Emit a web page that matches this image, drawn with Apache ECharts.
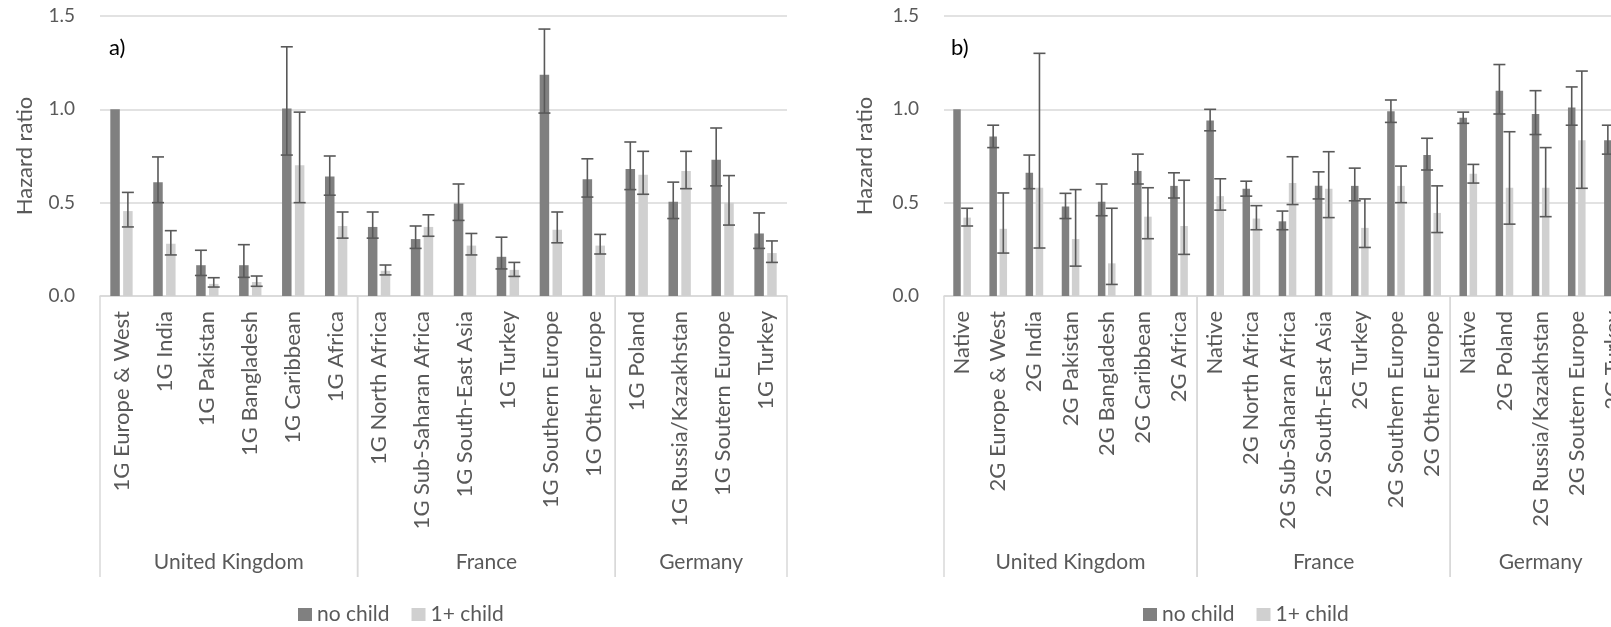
<!DOCTYPE html>
<html>
<head>
<meta charset="utf-8">
<script src="https://cdn.jsdelivr.net/npm/echarts@6/dist/echarts.min.js"></script>
<style>
  html, body { margin: 0; padding: 0; background: #fff; overflow: hidden; }
  #chart { width: 1650px; height: 627px; }
</style>
</head>
<body>
<div id="chart"></div>
<script>
// panel a) first generation
var catsA = ['1G Europe & West', '1G India', '1G Pakistan', '1G Bangladesh', '1G Caribbean', '1G Africa',
  '1G North Africa', '1G Sub-Saharan Africa', '1G South-East Asia', '1G Turkey', '1G Southern Europe', '1G Other Europe',
  '1G Poland', '1G Russia/Kazakhstan', '1G Soutern Europe', '1G Turkey'];
var noChildA   = [1.0, 0.61, 0.165, 0.165, 1.005, 0.64, 0.37, 0.305, 0.495, 0.21, 1.185, 0.625, 0.68, 0.505, 0.73, 0.335];
var noChildLoA = [null, 0.50, 0.11, 0.10, 0.755, 0.54, 0.31, 0.255, 0.405, 0.145, 0.98, 0.53, 0.57, 0.415, 0.59, 0.255];
var noChildHiA = [null, 0.745, 0.245, 0.275, 1.335, 0.75, 0.45, 0.375, 0.60, 0.315, 1.43, 0.735, 0.825, 0.61, 0.90, 0.445];
var oneChildA   = [0.455, 0.28, 0.065, 0.075, 0.70, 0.375, 0.135, 0.37, 0.27, 0.14, 0.355, 0.27, 0.65, 0.67, 0.50, 0.23];
var oneChildLoA = [0.37, 0.22, 0.048, 0.052, 0.50, 0.31, 0.113, 0.32, 0.22, 0.105, 0.285, 0.225, 0.545, 0.575, 0.38, 0.18];
var oneChildHiA = [0.555, 0.35, 0.098, 0.107, 0.985, 0.45, 0.166, 0.435, 0.335, 0.18, 0.45, 0.33, 0.775, 0.775, 0.645, 0.295];
var groupsA = ['United Kingdom', 'France', 'Germany'];
var groupSizesA = [6, 6, 4];

// panel b) second generation (last category is cut off on the right)
var catsB = ['Native', '2G Europe & West', '2G India', '2G Pakistan', '2G Bangladesh', '2G Caribbean', '2G Africa',
  'Native', '2G North Africa', '2G Sub-Saharan Africa', '2G South-East Asia', '2G Turkey', '2G Southern Europe', '2G Other Europe',
  'Native', '2G Poland', '2G Russia/Kazakhstan', '2G Soutern Europe', '2G Turkey'];
var noChildB   = [1.0, 0.855, 0.66, 0.48, 0.505, 0.67, 0.59, 0.94, 0.575, 0.40, 0.59, 0.59, 0.99, 0.755, 0.955, 1.10, 0.975, 1.01, 0.835];
var noChildLoB = [null, 0.795, 0.575, 0.415, 0.43, 0.60, 0.525, 0.885, 0.535, 0.355, 0.52, 0.51, 0.93, 0.675, 0.925, 0.975, 0.865, 0.915, 0.76];
var noChildHiB = [null, 0.915, 0.755, 0.55, 0.60, 0.76, 0.66, 1.00, 0.615, 0.455, 0.665, 0.685, 1.05, 0.845, 0.985, 1.24, 1.10, 1.12, 0.915];
var oneChildB   = [0.42, 0.36, 0.58, 0.305, 0.175, 0.425, 0.375, 0.535, 0.415, 0.605, 0.575, 0.365, 0.59, 0.445, 0.655, 0.58, 0.58, 0.835, null];
var oneChildLoB = [0.375, 0.23, 0.257, 0.16, 0.062, 0.307, 0.223, 0.46, 0.355, 0.49, 0.42, 0.26, 0.50, 0.34, 0.605, 0.385, 0.425, 0.577, null];
var oneChildHiB = [0.47, 0.552, 1.30, 0.57, 0.47, 0.58, 0.62, 0.628, 0.484, 0.746, 0.773, 0.52, 0.696, 0.59, 0.705, 0.88, 0.795, 1.205, null];
var groupsB = ['United Kingdom', 'France', 'Germany'];
var groupSizesB = [7, 7, 5];

var yTicks = [0, 0.5, 1.0, 1.5];

var DARK = '#808080', LIGHT = '#d0d0d0', TXT = '#595959', GRID = '#d9d9d9';
var FONT = 'Lato';

function errData(lo, hi, side) {
  var out = [];
  for (var i = 0; i < lo.length; i++) {
    if (lo[i] != null && hi[i] != null) out.push([i, lo[i], hi[i], side]);
  }
  return out;
}

function groupData(sizes) {
  var out = [], start = 0;
  for (var i = 0; i < sizes.length; i++) {
    out.push([start, 0, start + sizes[i] - 1]);
    start += sizes[i];
  }
  return out;
}

function errorBarItem(barW, gapRatio) {
  return function (params, api) {
    var idx = api.value(0), lo = api.value(1), hi = api.value(2), side = api.value(3);
    var shift = (barW * (1 + gapRatio) / 2) * (side === 0 ? -1 : 1);
    var top = api.coord([idx, hi]);
    var bot = api.coord([idx, lo]);
    var x = top[0] + shift;
    var half = 6;
    function st() { return { stroke: '#595959', lineWidth: 1.6 }; }
    return {
      type: 'group',
      children: [
        { type: 'line', shape: { x1: x, y1: top[1], x2: x, y2: bot[1] }, style: st() },
        { type: 'line', shape: { x1: x - half, y1: top[1], x2: x + half, y2: top[1] }, style: st() },
        { type: 'line', shape: { x1: x - half, y1: bot[1], x2: x + half, y2: bot[1] }, style: st() }
      ]
    };
  };
}

function groupItem(names) {
  return function (params, api) {
    var bw = api.size([1, 0])[0];
    var p0 = api.coord([api.value(0), 0]);
    var p1 = api.coord([api.value(2), 0]);
    var xL = p0[0] - bw / 2, xR = p1[0] + bw / 2, y0 = p0[1];
    var len = 281;
    return {
      type: 'group',
      children: [
        { type: 'line', shape: { x1: xL, y1: y0, x2: xL, y2: y0 + len }, style: { stroke: GRID, lineWidth: 1.5 } },
        { type: 'line', shape: { x1: xR, y1: y0, x2: xR, y2: y0 + len }, style: { stroke: GRID, lineWidth: 1.5 } },
        { type: 'text', x: (xL + xR) / 2, y: y0 + 266,
          style: { text: names[params.dataIndex], fill: TXT, font: '21px ' + FONT, align: 'center', verticalAlign: 'middle' } }
      ]
    };
  };
}

var chart = echarts.init(document.getElementById('chart'));

var BW_A = 9.5, BW_B = 7.5, GAP = 0.35;

function xAxisFor(grid, cats) {
  return {
    type: 'category', gridIndex: grid, data: cats,
    axisLine: { lineStyle: { color: GRID, width: 1.5 } },
    axisTick: { show: false },
    axisLabel: { rotate: 90, interval: 0, margin: 15, fontSize: 22, color: TXT, fontFamily: FONT }
  };
}

function yAxisFor(grid, gap) {
  return {
    type: 'value', gridIndex: grid, min: yTicks[0], max: yTicks[yTicks.length - 1], interval: 0.5,
    name: 'Hazard ratio', nameLocation: 'middle', nameGap: gap,
    nameTextStyle: { fontSize: 22, color: TXT, fontFamily: FONT },
    axisLine: { show: false }, axisTick: { show: false },
    axisLabel: { margin: 25, fontSize: 19, color: TXT, fontFamily: FONT, formatter: function (v) { return v.toFixed(1); } },
    splitLine: { lineStyle: { color: GRID, width: 1.5 } }
  };
}

chart.setOption({
  backgroundColor: '#fff',
  animation: false,
  textStyle: { fontFamily: FONT },
  title: [
    { text: 'a)', left: 109, top: 37, padding: 0, textStyle: { fontSize: 22, fontWeight: 'normal', color: '#000', fontFamily: FONT } },
    { text: 'b)', left: 951, top: 37, padding: 0, textStyle: { fontSize: 22, fontWeight: 'normal', color: '#000', fontFamily: FONT } }
  ],
  legend: [
    { data: ['no child', '1+ child'], left: 293, top: 599, icon: 'rect', itemWidth: 14, itemHeight: 13, itemGap: 22,
      textStyle: { fontSize: 21, color: TXT, fontFamily: FONT } },
    { data: ['no child', '1+ child'], left: 1138, top: 599, icon: 'rect', itemWidth: 14, itemHeight: 13, itemGap: 22,
      textStyle: { fontSize: 21, color: TXT, fontFamily: FONT } }
  ],
  grid: [
    { left: 100, top: 16, width: 687, height: 280, outerBoundsMode: 'none' },
    { left: 944, top: 16, width: 687, height: 280, outerBoundsMode: 'none' }
  ],
  xAxis: [xAxisFor(0, catsA), xAxisFor(1, catsB)],
  yAxis: [yAxisFor(0, 64), yAxisFor(1, 68)],
  series: [
    { name: 'no child', type: 'bar', xAxisIndex: 0, yAxisIndex: 0, data: noChildA, barWidth: BW_A, barGap: (GAP * 100) + '%', itemStyle: { color: DARK } },
    { name: '1+ child', type: 'bar', xAxisIndex: 0, yAxisIndex: 0, data: oneChildA, barWidth: BW_A, barGap: (GAP * 100) + '%', itemStyle: { color: LIGHT } },
    { name: 'no child', type: 'bar', xAxisIndex: 1, yAxisIndex: 1, data: noChildB, barWidth: BW_B, barGap: (GAP * 100) + '%', itemStyle: { color: DARK } },
    { name: '1+ child', type: 'bar', xAxisIndex: 1, yAxisIndex: 1, data: oneChildB, barWidth: BW_B, barGap: (GAP * 100) + '%', itemStyle: { color: LIGHT } },
    { name: 'err a', type: 'custom', xAxisIndex: 0, yAxisIndex: 0, z: 5, encode: { x: 0, y: 1 },
      renderItem: errorBarItem(BW_A, GAP), data: errData(noChildLoA, noChildHiA, 0).concat(errData(oneChildLoA, oneChildHiA, 1)) },
    { name: 'err b', type: 'custom', xAxisIndex: 1, yAxisIndex: 1, z: 5, encode: { x: 0, y: 1 },
      renderItem: errorBarItem(BW_B, GAP), data: errData(noChildLoB, noChildHiB, 0).concat(errData(oneChildLoB, oneChildHiB, 1)) },
    { name: 'groups a', type: 'custom', xAxisIndex: 0, yAxisIndex: 0, encode: { x: 0, y: 1 }, silent: true,
      renderItem: groupItem(groupsA), data: groupData(groupSizesA) },
    { name: 'groups b', type: 'custom', xAxisIndex: 1, yAxisIndex: 1, encode: { x: 0, y: 1 }, silent: true,
      renderItem: groupItem(groupsB), data: groupData(groupSizesB) }
  ]
});
</script>
</body>
</html>
